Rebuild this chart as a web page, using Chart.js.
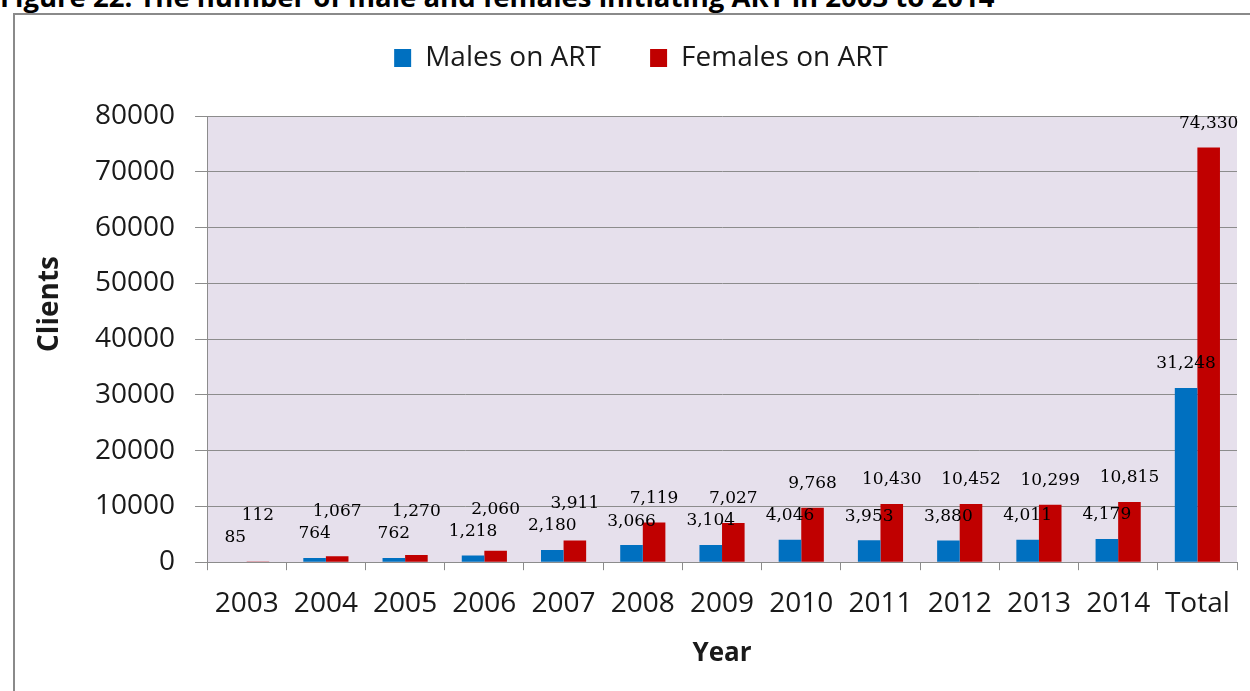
<!DOCTYPE html>
<html>
<head>
<meta charset="utf-8">
<title>ART initiation by sex</title>
<script src="https://cdn.jsdelivr.net/npm/chart.js@4.4.1/dist/chart.umd.min.js"></script>
<style>
    html, body { margin: 0; padding: 0; background: #fff; overflow: hidden; }
    body { width: 1250px; height: 691px; position: relative; }
    #caption {
        position: absolute; left: 0; top: -17px;
        font: bold 27.5px "Open Sans", sans-serif; line-height: 1; color: #000;
        white-space: nowrap;
    }
    #frame {
        position: absolute; left: 13px; top: 13px;
        width: 1256px; height: 700px;
        border: 2px solid #8a8a8a;
    }
</style>
</head>
<body>
<div id="caption">Figure 22: The number of male and females initiating ART in 2003 to 2014</div>
<div id="frame"><canvas id="artChart"></canvas></div>

<script>
// Data
const years = ['2003', '2004', '2005', '2006', '2007', '2008', '2009', '2010', '2011', '2012', '2013', '2014', 'Total']
const males = [85, 764, 762, 1218, 2180, 3066, 3104, 4046, 3953, 3880, 4011, 4179, 31248]
const females = [112, 1067, 1270, 2060, 3911, 7119, 7027, 9768, 10430, 10452, 10299, 10815, 74330]
const yTicks = [0, 10000, 20000, 30000, 40000, 50000, 60000, 70000, 80000]

const GRID = '#8c8c8c'
const TEXT = '#1a1a1a'

// Value labels above each bar; female labels get pushed up so they clear the male ones
const valueLabels = {
    id: 'valueLabels',
    afterDatasetsDraw(chart) {
        const ctx = chart.ctx
        const maleBars = chart.getDatasetMeta(0).data
        const femaleBars = chart.getDatasetMeta(1).data
        ctx.save()
        ctx.font = '17px "DejaVu Serif", serif'
        ctx.fillStyle = '#000'
        ctx.textAlign = 'center'
        ctx.textBaseline = 'middle'
        maleBars.forEach((bar, i) => {
            const maleY = bar.y - 24
            ctx.fillText(males[i].toLocaleString('en-US'), bar.x, maleY)
            const fBar = femaleBars[i]
            const femaleY = Math.min(fBar.y - 24, maleY - 22)
            ctx.fillText(females[i].toLocaleString('en-US'), fBar.x, femaleY)
        })
        ctx.restore()
    }
}

// Y axis title, drawn by hand so it sits a bit above the axis middle
const clientsTitle = {
    id: 'clientsTitle',
    afterDraw(chart) {
        const ctx = chart.ctx
        ctx.save()
        ctx.translate(35, 289)
        ctx.rotate(-Math.PI / 2)
        ctx.font = 'bold 28px "Open Sans", sans-serif'
        ctx.fillStyle = TEXT
        ctx.textAlign = 'center'
        ctx.textBaseline = 'middle'
        ctx.fillText('Clients', 0, 0)
        ctx.restore()
    }
}

// Lavender plot background
const plotBackground = {
    id: 'plotBackground',
    beforeDraw(chart) {
        const { ctx, chartArea } = chart
        ctx.save()
        ctx.fillStyle = '#e6e0ec'
        ctx.fillRect(chartArea.left, chartArea.top, chartArea.right - chartArea.left, chartArea.bottom - chartArea.top)
        ctx.restore()
    }
}

// Extra room between the legend and the plot
const legendGap = {
    id: 'legendGap',
    afterInit(chart) {
        const fit = chart.legend.fit
        chart.legend.fit = function () {
            fit.call(this)
            this.height += 34
        }
    }
}

const ctx = document.getElementById('artChart').getContext('2d')

new Chart(ctx, {
    type: 'bar',
    data: {
        labels: years,
        datasets: [
            {
                label: 'Males on ART',
                data: males,
                backgroundColor: '#0070c0',
                categoryPercentage: 0.57,
                barPercentage: 1.0
            },
            {
                label: 'Females on ART',
                data: females,
                backgroundColor: '#c00000',
                categoryPercentage: 0.57,
                barPercentage: 1.0
            }
        ]
    },
    options: {
        responsive: true,
        maintainAspectRatio: false,
        animation: false,
        layout: {
            padding: { top: 9, left: 30, right: 34, bottom: 42 }
        },
        plugins: {
            legend: {
                position: 'top',
                labels: {
                    boxWidth: 17,
                    boxHeight: 18,
                    padding: 20,
                    color: TEXT,
                    font: { family: '"Open Sans", sans-serif', size: 28 },
                    generateLabels(chart) {
                        const items = Chart.defaults.plugins.legend.labels.generateLabels(chart)
                        // wider gap after the first entry
                        items[0].text += '    '
                        return items
                    }
                }
            },
            tooltip: { enabled: false }
        },
        scales: {
            x: {
                grid: {
                    offset: true,
                    drawOnChartArea: false,
                    drawTicks: true,
                    tickLength: 8,
                    color: GRID
                },
                border: { color: GRID },
                ticks: {
                    color: TEXT,
                    padding: 17,
                    maxRotation: 0,
                    font: { family: '"Open Sans", sans-serif', size: 28 }
                },
                title: {
                    display: true,
                    text: 'Year',
                    color: TEXT,
                    padding: { top: 0, bottom: 4 },
                    font: { family: '"Open Sans", sans-serif', size: 26, weight: 'bold' }
                }
            },
            y: {
                min: yTicks[0],
                max: yTicks[yTicks.length - 1],
                afterBuildTicks(axis) {
                    axis.ticks = yTicks.map(v => ({ value: v }))
                },
                afterFit(axis) {
                    axis.width += 30
                },
                grid: {
                    color: GRID,
                    tickLength: 12
                },
                border: { color: GRID },
                ticks: {
                    color: TEXT,
                    padding: 20,
                    callback: v => String(v),
                    font: { family: '"Open Sans", sans-serif', size: 28 }
                }
            }
        }
    },
    plugins: [plotBackground, valueLabels, clientsTitle, legendGap]
})
</script>
</body>
</html>
